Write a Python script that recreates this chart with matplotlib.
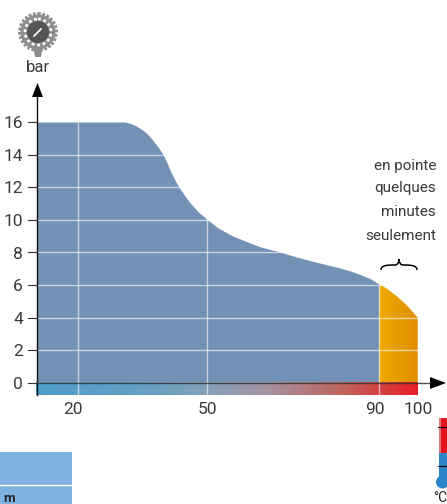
import numpy as np
import matplotlib
matplotlib.use("Agg")
import matplotlib.pyplot as plt
from matplotlib.colors import LinearSegmentedColormap
from matplotlib.patches import Circle, Polygon, PathPatch, Rectangle
from matplotlib.path import Path

plt.rcParams['font.family'] = ['Roboto', 'DejaVu Sans']

# curve: temperature (percent of range) and bar
temps = [10.5, 30.9, 32.1, 33.7, 35.1, 36.3, 37.4, 38.6, 39.8, 40.7, 41.4, 42.3, 43.3, 44.65, 46.05,
         47.9, 50.0, 52.6, 56.05, 59.1, 62.3, 67.0, 70.5, 73.95, 77.4, 80.9, 83.3, 85.6, 87.9, 90.0]
bars = [16.0, 16.0, 15.92, 15.74, 15.5, 15.22, 14.88, 14.47, 14.0, 13.5, 13.05, 12.56, 12.08, 11.55, 11.05,
        10.5, 10.03, 9.5, 9.0, 8.68, 8.35, 8.03, 7.75, 7.5, 7.28, 7.05, 6.87, 6.65, 6.4, 6.07]
peak_temps = [90.0, 92.0, 94.2, 96.5, 99.0]
peak_bars = [6.07, 5.75, 5.3, 4.75, 4.0]

y_ticks = [0, 2, 4, 6, 8, 10, 12, 14, 16]
x_grid = [20, 50, 90]
x_tick_labels = ['20', '50', '90', '100']
note_lines = ['en pointe', 'quelques', 'minutes', 'seulement']

fig = plt.figure(figsize=(4.47, 5.04), dpi=100)

ax = fig.add_axes([0, 0, 1, 1])
ax.axis('off')

# pixel axes for the decoration around the chart
px = fig.add_axes([0, 0, 1, 1], zorder=5)
px.axis('off')
px.patch.set_alpha(0)

ax.fill_between(temps, 0, bars, color='#7390b5', lw=0, zorder=1)

# orange part
orange = LinearSegmentedColormap.from_list('o', ['#eea900', '#df8e00'])
im = ax.imshow(np.linspace(0, 1, 64).reshape(1, -1), extent=[90, 99, 0, 6.07], cmap=orange,
               aspect='auto', zorder=1)
clip = ax.fill_between(peak_temps, 0, peak_bars, color='none', lw=0)
im.set_clip_path(clip.get_paths()[0], transform=ax.transData)

# temperature strip under the zero line
strip = LinearSegmentedColormap.from_list('s', [(0, '#4f9dcc'), (0.25, '#62a0c6'), (0.45, '#83a0b8'),
                                                (0.62, '#a8909d'), (0.8, '#c0655c'), (1, '#e61e26')])
ax.imshow(np.linspace(0, 1, 256).reshape(1, -1), extent=[10.3, 99, -0.74, 0], cmap=strip,
          aspect='auto', zorder=1)
ax.set_xlim(1.86, 105.8)
ax.set_ylim(-7.42, 23.48)

# grid stays inside the filled area
all_t = temps + peak_temps[1:]
all_b = bars + peak_bars[1:]
for y in y_ticks[1:-1]:
    ax.plot([10.5, np.interp(-y, -np.array(all_b), all_t)], [y, y], color='white', alpha=0.6, lw=1, zorder=2)
for x in x_grid:
    ax.plot([x, x], [-0.74, np.interp(x, all_t, all_b)], color='white', alpha=0.6, lw=1, zorder=2)
ax.plot([99, 99], [0, 4], color='white', alpha=0.35, lw=0.8, zorder=2)

# axes
ax.plot([10.5, 10.5], [-0.74, 17.8], color='#111111', lw=1, zorder=3)
ax.plot([10.3, 102], [0, 0], color='#333333', lw=1, alpha=0.85, zorder=3)
for y in y_ticks:
    ax.plot([8.4, 10.5], [y, y], color='#333333', lw=0.8, zorder=3)
    ax.text(7.2, y - 0.1, str(y), ha='right', va='center', fontsize=12.5, color='#3a3a3a')
px.add_patch(Polygon([[37.5, 83], [32, 97], [43, 97]], color='black', lw=0))
px.add_patch(Polygon([[446, 383], [430, 377], [430, 389]], color='black', lw=0))

for x, lab in zip([73, 207, 375, 418], x_tick_labels):
    px.text(x, 410, lab, ha='center', va='center', fontsize=12.5, color='#3a3a3a')

# note
for y, line in zip([166, 188, 212, 236], note_lines):
    px.text(436, y, line, ha='right', va='center', fontsize=11, color='#3a3a3a')
brace = Path([(381, 270), (381, 265), (388, 265), (395, 265), (397, 265), (399, 263), (399, 259),
              (399, 263), (401, 265), (403, 265), (410, 265), (417, 265), (417, 270)],
             [1, 4, 4, 4, 4, 4, 4, 4, 4, 4, 4, 4, 4])
px.add_patch(PathPatch(brace, fc='none', ec='black', lw=1.1))

# gauge icon
px.add_patch(Polygon([[33, 45], [43, 45], [41, 57], [35, 57]], color='#8d8d8d', lw=0))
px.add_patch(Circle((38, 32), 17.5, color='#8d8d8d', lw=0))
px.add_patch(Circle((38, 32), 18.5, fc='none', ec='#8d8d8d', lw=2, ls=(0, (1, 0.6))))
px.add_patch(Circle((38, 32), 13, fc='none', ec='white', lw=2, ls=(0, (1, 1))))
px.add_patch(Circle((38, 32), 11, color='#555555', lw=0))
px.plot([34, 41], [36, 29], color='white', lw=1.2)
px.text(38, 68, 'bar', ha='center', va='center', fontsize=12, color='#3a3a3a')

# table corner
px.add_patch(Rectangle((0, 452), 72, 52, color='#7fb2e0', lw=0))
px.plot([0, 72], [485, 485], color='white', lw=1)
px.text(3, 502, 'm', ha='left', va='baseline', fontsize=9.5, color='#222222', fontweight='bold')

# thermometer
px.add_patch(Rectangle((439, 418), 8, 35, color='#e2141e', lw=0))
px.add_patch(Rectangle((439, 418), 2, 35, color='#e4777c', lw=0))
px.add_patch(Rectangle((439, 453), 8, 30, color='#2a84c8', lw=0))
px.add_patch(Circle((442.5, 482), 6.5, color='#2a84c8', lw=0))
px.plot([438, 447], [427, 427], color='black', lw=0.8)
px.plot([438, 447], [466, 466], color='black', lw=0.8)
px.text(433, 498, '°C', ha='left', va='center', fontsize=10, color='#222222')
px.set_xlim(0, 447)
px.set_ylim(504, 0)

fig.savefig('out.png', dpi=100)
